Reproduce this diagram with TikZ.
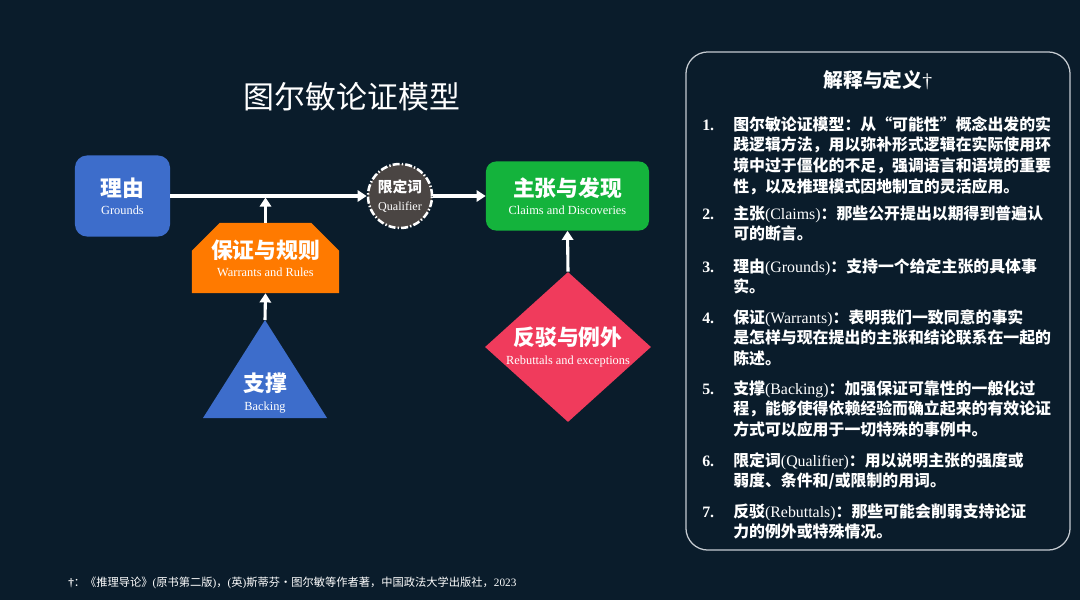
\documentclass[tikz,border=0pt]{standalone}
\usepackage{fontspec}
\setmainfont{Liberation Serif}
\newfontfamily\cjk{Noto Sans CJK SC}
\usetikzlibrary{arrows.meta,shapes.geometric,shapes.misc}

\definecolor{bgnavy}{HTML}{0A1C2B}
\definecolor{groundblue}{HTML}{3D6DCB}
\definecolor{warrantorange}{HTML}{FF7A00}
\definecolor{claimgreen}{HTML}{14B33C}
\definecolor{qualgray}{HTML}{4A4543}
\definecolor{rebutred}{HTML}{F03B5C}
\definecolor{panelline}{HTML}{C5CBD1}

\newcommand\enw[1]{{\rmfamily\mdseries #1}}
\newcommand\boxlabel[2]{{\cjk\bfseries\fontsize{15.5}{13}\selectfont #1}\\{\fontsize{8.8}{13}\selectfont #2}}

\tikzset{
  arrowline/.style={draw=white, line width=2.2pt, -{Triangle[width=8pt,length=6.5pt]}},
  modelbox/.style={text=white, align=center, inner sep=0pt, font=\fontsize{8.8}{13}\selectfont},
  defitem/.style={text=white, anchor=base west, inner sep=0pt,
    font=\cjk\bfseries\fontsize{11.3}{14.7}\selectfont},
}

\begin{document}
\begin{tikzpicture}[x=0.025cm, y=-0.025cm]
\fill[bgnavy] (0,0) rectangle (1080,600);
\useasboundingbox (0,0) rectangle (1080,600);

% title
\node[text=white, font=\cjk\fontsize{22}{26}\selectfont, anchor=base] (title) at (352,108) {图尔敏论证模型};

% model
\node[modelbox, fill=groundblue, rounded corners=0.3cm, minimum width=2.375cm, minimum height=2.025cm] (grounds) at (122.5,196) {\boxlabel{理由}{Grounds}};
\node[modelbox, circle, fill=qualgray, draw=white, line width=1.8pt, dash pattern=on 5pt off 1.5pt on 1pt off 1.5pt, minimum size=1.6cm] (qualifier) at (400,196)
  {{\cjk\bfseries\fontsize{10.5}{12}\selectfont 限定词}\\{\fontsize{8.6}{12}\selectfont Qualifier}};
\node[modelbox, fill=claimgreen, rounded corners=0.25cm, minimum width=4.075cm, minimum height=1.725cm] (claims) at (567.5,196) {\boxlabel{主张与发现}{Claims and Discoveries}};
\node[modelbox, chamfered rectangle, chamfered rectangle corners={north west,north east}, chamfered rectangle xsep=0.32cm, chamfered rectangle ysep=0.37cm,
  fill=warrantorange, minimum width=3.675cm, minimum height=1.75cm] (warrants) at (265.5,258) {\boxlabel{保证与规则}{Warrants and Rules}};
\node[diamond, fill=rebutred, inner sep=0pt, minimum width=4.15cm, minimum height=3.75cm] (rebuttals) at (568,347) {};
\node[modelbox] (rebuttaltext) at (rebuttals.center) {\boxlabel{反驳与例外}{Rebuttals and exceptions}};
\fill[groundblue] (203,418) -- (265,320) -- (327,418) -- cycle;
\coordinate (backtop) at (265,320);
\node[modelbox] (backing) at (265,393) {\boxlabel{支撑}{Backing}};

\draw[arrowline] (grounds.east) -- (qualifier.west);
\draw[arrowline] (qualifier.east) -- (claims.west);
\draw[arrowline, shorten >=1pt] (warrants.north) -- (warrants.north |- grounds.east);
\draw[arrowline] (backtop) -- (warrants.south);
\draw[arrowline] (rebuttals.north) -- (claims.south);

% definitions
\node[draw=panelline, line width=0.9pt, rounded corners=0.55cm, minimum width=9.6cm, minimum height=12.45cm] (panel) at (878,301) {};
\node[text=white, font=\cjk\bfseries\fontsize{14}{16}\selectfont, anchor=base] (deftitle) at (878,87) {解释与定义\enw{†}};

\node[defitem] (d1) at (702,130) {\begin{tabular}[t]{@{}p{0.775cm}@{}l@{}}
  \enw{\bfseries 1.} & 图尔敏论证模型：从“可能性”概念出发的实\\
  & 践逻辑方法，用以弥补形式逻辑在实际使用环\\
  & 境中过于僵化的不足，强调语言和语境的重要\\
  & 性，以及推理模式因地制宜的灵活应用。
\end{tabular}};
\node[defitem] (d2) at (702,219) {\begin{tabular}[t]{@{}p{0.775cm}@{}l@{}}
  \enw{\bfseries 2.} & 主张\enw{(Claims)}：那些公开提出以期得到普遍认\\
  & 可的断言。
\end{tabular}};
\node[defitem] (d3) at (702,272) {\begin{tabular}[t]{@{}p{0.775cm}@{}l@{}}
  \enw{\bfseries 3.} & 理由\enw{(Grounds)}：支持一个给定主张的具体事\\
  & 实。
\end{tabular}};
\node[defitem] (d4) at (702,323) {\begin{tabular}[t]{@{}p{0.775cm}@{}l@{}}
  \enw{\bfseries 4.} & 保证\enw{(Warrants)}：表明我们一致同意的事实\\
  & 是怎样与现在提出的主张和结论联系在一起的\\
  & 陈述。
\end{tabular}};
\node[defitem] (d5) at (702,394) {\begin{tabular}[t]{@{}p{0.775cm}@{}l@{}}
  \enw{\bfseries 5.} & 支撑\enw{(Backing)}：加强保证可靠性的一般化过\\
  & 程，能够使得依赖经验而确立起来的有效论证\\
  & 方式可以应用于一切特殊的事例中。
\end{tabular}};
\node[defitem] (d6) at (702,466) {\begin{tabular}[t]{@{}p{0.775cm}@{}l@{}}
  \enw{\bfseries 6.} & 限定词\enw{(Qualifier)}：用以说明主张的强度或\\
  & 弱度、条件和/或限制的用词。
\end{tabular}};
\node[defitem] (d7) at (702,517) {\begin{tabular}[t]{@{}p{0.775cm}@{}l@{}}
  \enw{\bfseries 7.} & 反驳\enw{(Rebuttals)}：那些可能会削弱支持论证\\
  & 力的例外或特殊情况。
\end{tabular}};

% source
\node[text=white, anchor=base west, inner sep=0pt, font=\cjk\fontsize{8}{10}\selectfont] (source) at (68,586)
  {\enw{\bfseries †}：《推理导论》\enw{(}原书第二版\enw{)}，\enw{(}英\enw{)}斯蒂芬·图尔敏等作者著，中国政法大学出版社，\enw{2023}};
\end{tikzpicture}
\end{document}
